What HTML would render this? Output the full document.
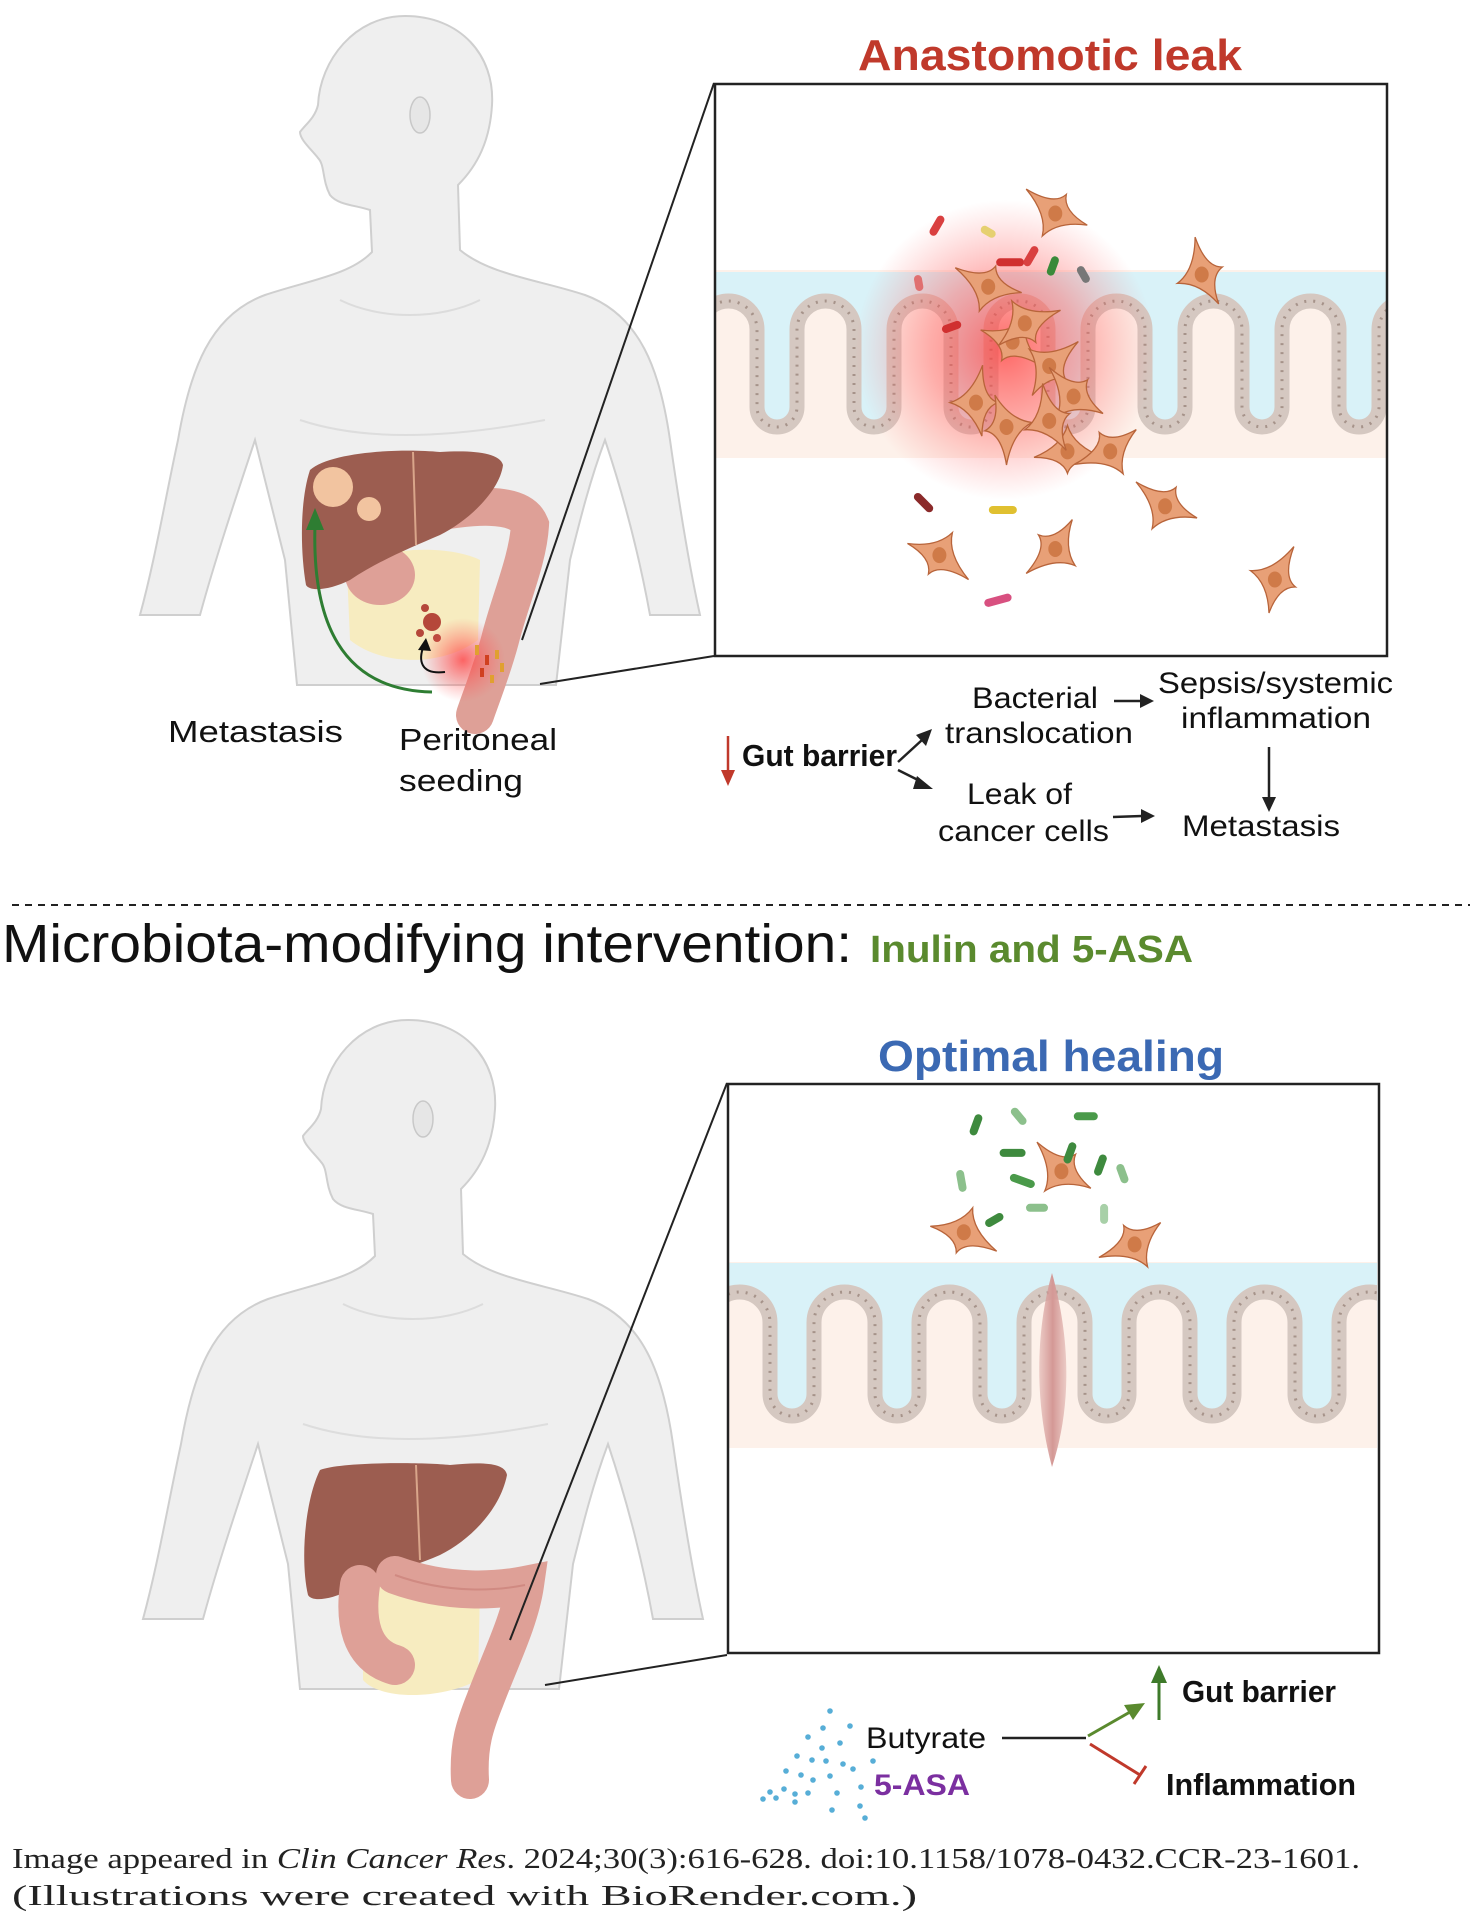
<!DOCTYPE html>
<html><head><meta charset="utf-8"><style>
html,body{margin:0;padding:0;background:#fff;}
svg{display:block;}
text{font-family:"Liberation Sans",sans-serif;}
</style></head><body>
<svg id="s" width="1475" height="1918" viewBox="0 0 1475 1918" xmlns="http://www.w3.org/2000/svg">
<defs>
<radialGradient id="glow"><stop offset="0" stop-color="#ff3b3b" stop-opacity="0.75"/><stop offset="0.5" stop-color="#ff5a5a" stop-opacity="0.45"/><stop offset="1" stop-color="#ff7070" stop-opacity="0"/></radialGradient>
<radialGradient id="glow2"><stop offset="0" stop-color="#ff4040" stop-opacity="0.8"/><stop offset="1" stop-color="#ff6060" stop-opacity="0"/></radialGradient>
<linearGradient id="scar" x1="0" x2="1"><stop offset="0" stop-color="#d9a3a0" stop-opacity="0.5"/><stop offset="0.5" stop-color="#d49895"/><stop offset="1" stop-color="#d9a3a0" stop-opacity="0.5"/></linearGradient>
<clipPath id="c1"><rect x="716" y="85" width="670" height="569"/></clipPath>
<clipPath id="c2"><rect x="729" y="1085" width="648" height="565"/></clipPath>
<g id="body">
<path d="M405 16 C460 16 495 55 492 105 C490 140 478 165 458 185 L460 250 C490 275 540 280 585 295 C640 315 660 370 670 440 C680 510 690 570 700 615 L650 615 C640 560 625 500 605 440 C590 480 580 520 570 560 L556 685 L297 685 L285 560 C275 520 265 480 255 440 C235 500 215 560 200 615 L140 615 C155 560 165 500 178 440 C190 370 210 315 265 295 C310 280 350 275 372 252 L370 210 C355 205 338 205 330 195 C322 180 325 165 318 158 C312 150 300 140 300 132 C305 125 315 118 318 105 C320 60 355 16 405 16 Z" fill="#efefef" stroke="#cfcfcf" stroke-width="2"/>
<ellipse cx="420" cy="115" rx="10" ry="18" fill="#e6e6e6" stroke="#c8c8c8" stroke-width="1.5"/>
<path d="M340 300 C380 320 440 320 480 300" fill="none" stroke="#dcdcdc" stroke-width="2"/>
<path d="M300 420 C360 440 440 440 545 420" fill="none" stroke="#dddddd" stroke-width="2"/>
</g>
</defs>

<!-- Titles -->
<text x="858" y="70" font-size="44" font-weight="bold" fill="#c0392b" textLength="384" lengthAdjust="spacingAndGlyphs">Anastomotic leak</text>
<text x="878" y="1071" font-size="44" font-weight="bold" fill="#3b69b3" textLength="346" lengthAdjust="spacingAndGlyphs">Optimal healing</text>

<!-- Body 1 -->
<use href="#body"/>
<!-- organs body1 -->
<path d="M420 515 C470 505 520 500 530 525 C528 560 510 600 500 640 C492 670 480 700 475 715" fill="none" stroke="#dea097" stroke-width="38" stroke-linecap="round"/>
<path d="M347 570 C380 545 450 545 480 560 L478 640 C440 668 380 665 350 640 Z" fill="#f7ecc0"/>
<ellipse cx="380" cy="575" rx="35" ry="30" fill="#dea097"/>
<path d="M310 470 C330 452 400 448 440 452 C470 450 500 452 503 465 C500 490 470 520 440 535 C410 548 380 560 350 580 C330 590 310 592 306 585 C300 550 300 500 310 470 Z" fill="#9c5d50"/>
<path d="M413 452 L416 545" stroke="#d9a58a" stroke-width="2"/>
<circle cx="333" cy="487" r="20" fill="#f2c4a0"/>
<circle cx="369" cy="509" r="12" fill="#f2c4a0"/>
<circle cx="432" cy="622" r="9" fill="#b5473a"/><circle cx="425" cy="608" r="4" fill="#b5473a"/><circle cx="420" cy="633" r="4" fill="#b5473a"/><circle cx="437" cy="638" r="4" fill="#b5473a"/>
<circle cx="463" cy="660" r="42" fill="url(#glow2)"/>
<g fill="#e0a030"><rect x="475" y="645" width="4" height="10"/><rect x="485" y="655" width="4" height="10" fill="#d04020"/><rect x="495" y="650" width="4" height="9"/><rect x="480" y="668" width="4" height="9" fill="#d04020"/><rect x="500" y="663" width="4" height="9"/><rect x="490" y="675" width="4" height="8"/></g>
<path d="M432 692 C340 690 312 620 315 525" fill="none" stroke="#2e7d32" stroke-width="3"/>
<polygon points="315,508 306,530 324,530" fill="#2e7d32"/>
<path d="M445 672 C420 675 418 660 424 645" fill="none" stroke="#111" stroke-width="2"/>
<polygon points="426,638 418,650 431,651" fill="#111"/>
<text x="168" y="742" font-size="31" fill="#111" textLength="175" lengthAdjust="spacingAndGlyphs">Metastasis</text>
<text x="399" y="750" font-size="31" fill="#111" textLength="158" lengthAdjust="spacingAndGlyphs">Peritoneal</text>
<text x="399" y="791" font-size="31" fill="#111" textLength="124" lengthAdjust="spacingAndGlyphs">seeding</text>

<!-- zoom lines top -->
<line x1="714" y1="83" x2="522" y2="640" stroke="#222" stroke-width="2"/>
<line x1="714" y1="656" x2="540" y2="684" stroke="#222" stroke-width="2"/>
<!-- top box -->
<g clip-path="url(#c1)">
<rect x="716" y="270" width="670" height="188" fill="#fdf1ea"/>
<path id="b1" fill="#d9f2f8"/>
<path id="v1" fill="none" stroke="#d5c8c1" stroke-width="15"/>
<path id="d1" fill="none" stroke="#a6938a" stroke-width="3" stroke-dasharray="2 7"/>
<circle cx="1005" cy="350" r="150" fill="url(#glow)"/>
<g id="cells1"></g>
</g>
<rect x="715" y="84" width="672" height="572" fill="none" stroke="#222" stroke-width="2.5"/>

<!-- flow chart top -->
<line x1="728" y1="736" x2="728" y2="772" stroke="#c0392b" stroke-width="2.5"/>
<polygon points="721,770 735,770 728,786" fill="#c0392b"/>
<text x="742" y="766" font-size="31" font-weight="bold" fill="#111" textLength="155" lengthAdjust="spacingAndGlyphs">Gut barrier</text>
<line x1="898" y1="762" x2="922" y2="740" stroke="#222" stroke-width="2.5"/>
<polygon points="932,729 916,735 926,746" fill="#222"/>
<line x1="898" y1="770" x2="920" y2="781" stroke="#222" stroke-width="2.5"/>
<polygon points="933,789 917,776 913,789" fill="#222"/>
<text x="972" y="708" font-size="30" fill="#111" textLength="126" lengthAdjust="spacingAndGlyphs">Bacterial</text>
<text x="945" y="743" font-size="30" fill="#111" textLength="188" lengthAdjust="spacingAndGlyphs">translocation</text>
<text x="1158" y="693" font-size="30" fill="#111" textLength="235" lengthAdjust="spacingAndGlyphs">Sepsis/systemic</text>
<text x="1181" y="728" font-size="30" fill="#111" textLength="190" lengthAdjust="spacingAndGlyphs">inflammation</text>
<text x="967" y="804" font-size="30" fill="#111" textLength="105" lengthAdjust="spacingAndGlyphs">Leak of</text>
<text x="938" y="841" font-size="30" fill="#111" textLength="171" lengthAdjust="spacingAndGlyphs">cancer cells</text>
<text x="1182" y="836" font-size="30" fill="#111" textLength="158" lengthAdjust="spacingAndGlyphs">Metastasis</text>
<line x1="1114" y1="701" x2="1142" y2="701" stroke="#222" stroke-width="2.5"/><polygon points="1154,701 1140,694 1140,708" fill="#222"/>
<line x1="1113" y1="817" x2="1142" y2="816" stroke="#222" stroke-width="2.5"/><polygon points="1155,816 1141,809 1141,823" fill="#222"/>
<line x1="1269" y1="747" x2="1269" y2="800" stroke="#222" stroke-width="2.5"/><polygon points="1269,812 1262,797 1276,797" fill="#222"/>

<!-- divider -->
<line x1="12" y1="905" x2="1470" y2="905" stroke="#222" stroke-width="2" stroke-dasharray="7 6"/>
<text x="2" y="962" font-size="54" fill="#111" textLength="850" lengthAdjust="spacingAndGlyphs">Microbiota-modifying intervention:</text>
<text x="870" y="962" font-size="38" font-weight="bold" fill="#5a8a2e" textLength="323" lengthAdjust="spacingAndGlyphs">Inulin and 5-ASA</text>

<!-- Body 2 -->
<use href="#body" transform="translate(3,1004)"/>
<path d="M320 1470 C340 1462 420 1462 450 1465 C480 1462 505 1462 507 1475 C500 1510 470 1540 440 1555 C410 1568 380 1575 350 1590 C330 1600 312 1602 308 1595 C300 1560 305 1500 320 1470 Z" fill="#9c5d50"/>
<path d="M416 1465 L420 1560" stroke="#d9a58a" stroke-width="2"/>
<path d="M363 1590 C400 1570 460 1570 480 1590 L478 1680 C440 1700 380 1700 363 1680 Z" fill="#f7ecc0"/>
<path d="M360 1585 C355 1620 360 1655 395 1665" fill="none" stroke="#dea097" stroke-width="40" stroke-linecap="round"/>
<path d="M395 1575 C450 1595 500 1590 525 1585 C520 1620 500 1660 485 1700 C475 1725 468 1745 470 1780" fill="none" stroke="#dea097" stroke-width="38" stroke-linecap="round"/>
<path d="M395 1575 C450 1595 500 1590 525 1585" fill="none" stroke="#d08a82" stroke-width="2"/>
<!-- zoom lines bottom -->
<line x1="727" y1="1083" x2="510" y2="1640" stroke="#222" stroke-width="2"/>
<line x1="727" y1="1655" x2="545" y2="1685" stroke="#222" stroke-width="2"/>
<!-- bottom box -->
<g clip-path="url(#c2)">
<rect x="729" y="1262" width="648" height="186" fill="#fdf1ea"/>
<path id="b2" fill="#d9f2f8"/>
<path id="v2" fill="none" stroke="#d5c8c1" stroke-width="15"/>
<path id="d2" fill="none" stroke="#a6938a" stroke-width="3" stroke-dasharray="2 7"/>
<path d="M1052 1273 C1068 1330 1074 1400 1052 1467 C1034 1400 1036 1330 1052 1273 Z" fill="url(#scar)"/>
<g id="cells2"></g>
</g>
<rect x="728" y="1084" width="651" height="569" fill="none" stroke="#222" stroke-width="2.5"/>

<!-- bottom flow -->
<g id="dots" fill="#3aa0d0"></g>
<text x="866" y="1748" font-size="30" fill="#111" textLength="120" lengthAdjust="spacingAndGlyphs">Butyrate</text>
<text x="874" y="1795" font-size="30" font-weight="bold" fill="#7b2fa0" textLength="96" lengthAdjust="spacingAndGlyphs">5-ASA</text>
<line x1="1002" y1="1738" x2="1086" y2="1738" stroke="#222" stroke-width="2.5"/>
<line x1="1088" y1="1736" x2="1130" y2="1712" stroke="#5a8a2e" stroke-width="3"/>
<polygon points="1145,1703 1124,1705 1133,1720" fill="#5a8a2e"/>
<line x1="1090" y1="1744" x2="1140" y2="1775" stroke="#c0392b" stroke-width="3"/>
<line x1="1134" y1="1784" x2="1146" y2="1766" stroke="#c0392b" stroke-width="3"/>
<line x1="1159" y1="1720" x2="1159" y2="1680" stroke="#3e7a2a" stroke-width="3"/>
<polygon points="1159,1665 1151,1683 1167,1683" fill="#3e7a2a"/>
<text x="1182" y="1702" font-size="31" font-weight="bold" fill="#111" textLength="154" lengthAdjust="spacingAndGlyphs">Gut barrier</text>
<text x="1166" y="1795" font-size="31" font-weight="bold" fill="#111" textLength="190" lengthAdjust="spacingAndGlyphs">Inflammation</text>

<!-- citation -->
<text x="12" y="1868" font-size="29" fill="#222" style="font-family:'Liberation Serif',serif" textLength="1348" lengthAdjust="spacingAndGlyphs">Image appeared in <tspan font-style="italic">Clin Cancer Res</tspan>. 2024;30(3):616-628. doi:10.1158/1078-0432.CCR-23-1601.</text>
<text x="12" y="1905" font-size="29" fill="#222" style="font-family:'Liberation Serif',serif" textLength="905" lengthAdjust="spacingAndGlyphs">(Illustrations were created with BioRender.com.)</text>
</svg>
<script>
function villi(first,crypt,period,top,bottom,blueTop,n){
  var hill=period-crypt, rc=crypt/2, rh=hill/2;
  var yT=top+rh, yB=bottom-rc;
  var b=first-hill;
  var p="M"+b+","+yT;
  for(var k=0;k<n;k++){
    var a=first+k*period, bb=a+crypt;
    p+=" A"+rh+","+rh+" 0 0 1 "+a+","+yT+" L"+a+","+yB+" A"+rc+","+rc+" 0 0 0 "+bb+","+yB+" L"+bb+","+yT;
    b=bb;
  }
  var blue=p+" L"+b+","+blueTop+" L"+(first-hill)+","+blueTop+" Z";
  return [p,blue];
}
var r=villi(757,40,97,301,427,272,8);
document.getElementById('v1').setAttribute('d',r[0]);
document.getElementById('d1').setAttribute('d',r[0]);
document.getElementById('b1').setAttribute('d',r[1]);
r=villi(770,44,105,1292,1416,1263,7);
document.getElementById('v2').setAttribute('d',r[0]);
document.getElementById('d2').setAttribute('d',r[0]);
document.getElementById('b2').setAttribute('d',r[1]);
var NS="http://www.w3.org/2000/svg";
function el(g,t,a){var e=document.createElementNS(NS,t);for(var k in a)e.setAttribute(k,a[k]);g.appendChild(e);return e;}
function cell(g,x,y,s,rot){
  var arms=[0,100,200,280],L=[34,26,38,22],d="";
  for(var i=0;i<4;i++){
    var an=(arms[i]+rot)*Math.PI/180, an2=(arms[(i+1)%4]+rot+ (i==3?360:0))*Math.PI/180;
    var tx=x+Math.cos(an)*L[i]*s, ty=y+Math.sin(an)*L[i]*s;
    var mid=(an+an2)/2, cx=x+Math.cos(mid)*8*s, cy=y+Math.sin(mid)*8*s;
    if(i==0)d+="M"+tx+","+ty;
    var nx=x+Math.cos(an2)*L[(i+1)%4]*s, ny=y+Math.sin(an2)*L[(i+1)%4]*s;
    d+=" Q"+cx+","+cy+" "+nx+","+ny;
  }
  el(g,'path',{d:d+"Z",fill:"#e8a077",stroke:"#b8643a","stroke-width":1.3});
  el(g,'ellipse',{cx:x,cy:y,rx:7*s,ry:8*s,fill:"#cf7a48"});
}
function bact(g,x,y,rot,c,len){
  el(g,'rect',{x:x-len/2,y:y-4,width:len,height:8,rx:4,fill:c,transform:"rotate("+rot+" "+x+" "+y+")"});
}
var g1=document.getElementById('cells1');
[[865,175,20],[985,225,60],[810,235,10],[830,280,200],[860,300,120],[800,330,80],[880,325,30],[825,350,250],[875,370,170],[910,370,320],[955,415,20],[770,455,200],[865,450,300],[1045,475,100],[860,345,60],[840,265,140]].forEach(function(c){cell(g1,c[0]*1.22,c[1]*1.22,1,c[2]);});
[[768,185,-60,"#d94040",22],[828,215,0,"#d03030",28],[845,210,-60,"#d94040",22],[780,268,-20,"#d03030",20],[863,218,-70,"#3a8a3a",20],[888,225,60,"#777",18],[757,412,45,"#8b2a2a",24],[822,418,0,"#e0c030",28],[818,492,-15,"#d85080",28],[810,190,30,"#e6d070",16],[753,232,80,"#e07070",16]].forEach(function(b){bact(g1,b[0]*1.22,b[1]*1.22,b[2],b[3],b[4]);});
var g2=document.getElementById('cells2');
[[870,960,30],[790,1010,190],[930,1020,320]].forEach(function(c){cell(g2,c[0]*1.22,c[1]*1.22,1,c[2]);});
[[800,922,-70,"#3e8a3e",22],[830,945,0,"#3e8a3e",26],[890,915,0,"#4a9a4a",24],[877,945,-70,"#3e8a3e",22],[902,955,-70,"#3e8a3e",22],[850,990,0,"#8cc08c",22],[815,1000,-30,"#3e8a3e",20],[788,968,80,"#8cc08c",22],[920,962,70,"#8cc08c",20],[905,995,90,"#a8d0a8",20],[835,915,50,"#8cc08c",20],[838,968,20,"#4a9a4a",26]].forEach(function(b){bact(g2,b[0]*1.22,b[1]*1.22,b[2],b[3],b[4]);});
var dg=document.getElementById('dots');
var pts=[[830,1711],[823,1728],[850,1726],[808,1737],[822,1748],[840,1743],[797,1756],[812,1760],[826,1761],[843,1764],[786,1771],[801,1775],[813,1780],[830,1776],[853,1769],[770,1792],[784,1789],[795,1794],[808,1793],[837,1793],[861,1787],[763,1799],[776,1798],[795,1802],[832,1810],[860,1806],[865,1818],[873,1761]];
pts.forEach(function(p){el(dg,'circle',{cx:p[0],cy:p[1],r:2.8,opacity:0.85});});
</script>
</body></html>
